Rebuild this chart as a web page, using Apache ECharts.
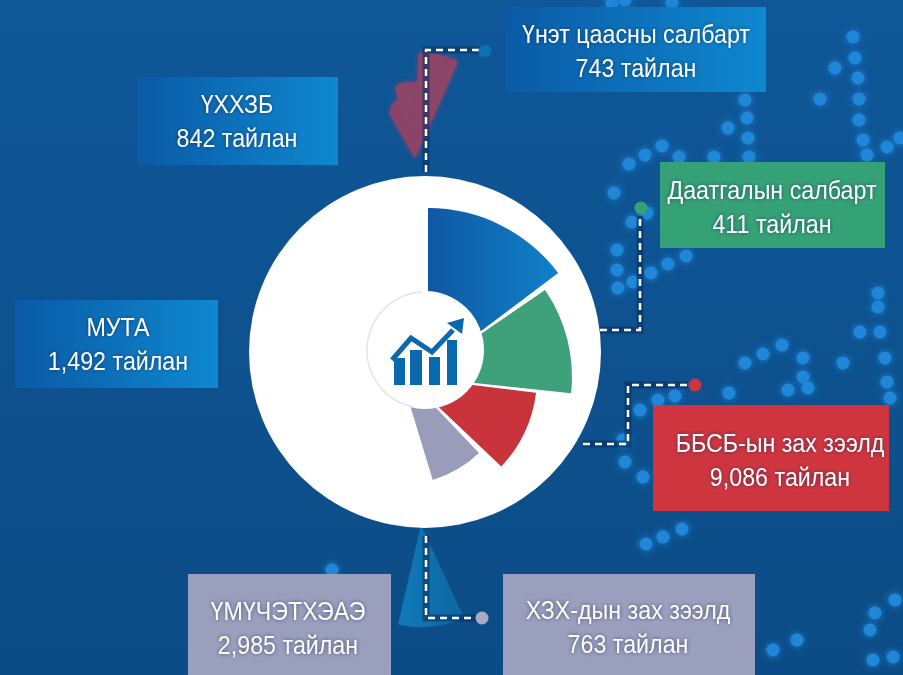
<!DOCTYPE html>
<html>
<head>
<meta charset="utf-8">
<style>
  html, body { margin: 0; padding: 0; background: #0e5290; }
  #chart { width: 903px; height: 675px; }
</style>
<script src="https://cdn.jsdelivr.net/npm/echarts@6/dist/echarts.min.js"></script>
</head>
<body>
<div id="chart"></div>
<script>
// figures printed on the boxes
const categories = ['ҮХХЗБ', 'Үнэт цаасны салбарт', 'Даатгалын салбарт', 'МУТА', 'ББСБ-ын зах зээлд', 'ҮМҮЧЭТХЭАЭ', 'ХЗХ-дын зах зээлд']
const reportCounts = [842, 743, 411, 1492, 9086, 2985, 763]

// wedge widths in degrees (they do not follow the counts)
const wedgeNames = ['Үнэт цаасны салбарт', 'Даатгалын салбарт', 'ББСБ-ын зах зээлд', 'ХЗХ-дын зах зээлд', 'ҮХХЗБ', 'ҮХХЗБ', 'ҮХХЗБ', 'ҮМҮЧЭТХЭАЭ']
const wedgeSpans = [53, 40.5, 36.5, 26.7, 30, 34, 22, 38]

// layout, in the same order as the lists above
const boxLayout = [
  { rect: [137, 77, 201, 88], cx: 237, textY: 123, fill: 'blue' },
  { rect: [505, 7, 261, 85], cx: 636, textY: 53, fill: 'blue' },
  { rect: [660, 162, 225, 86], cx: 772, textY: 209, fill: '#35a176' },
  { rect: [15, 300, 203, 88], cx: 118, textY: 346, fill: 'blue' },
  { rect: [653, 405, 236, 106], cx: 780, textY: 462, fill: '#cf353f' },
  { rect: [188, 574, 203, 101], cx: 288, textY: 630, fill: '#9a9fbd' },
  { rect: [503, 574, 252, 101], cx: 628, textY: 629, fill: '#9a9fbd' }
]
const wedgeLayout = [
  { center: [428, 371], r: 163, start: 90, z: 2, color: 'wedgeBlue' },
  { center: [418, 377], r: 154, start: 34.4, z: 2, color: '#3fa17c' },
  { center: [407, 377], r: 130, start: -7, z: 2, color: '#c9343c' },
  { center: [399, 369], r: 116, start: -46.4, z: 2, color: '#9a9dba' },
  // the maroon blob behind the disc is lopsided, so it takes three lobes
  { center: [415, 158], r: 60, start: 120, z: 0, color: '#8b4569', round: 12, blur: 5 },
  { center: [415, 158], r: 76, start: 106, z: 0, color: '#8b4569', round: 6, blur: 5 },
  { center: [415, 158], r: 106, start: 88, z: 0, color: '#8b4569', round: 3, blur: 5 },
  { center: [421, 525], r: 102, start: -65, z: 0, color: 'wedgeTeal' }
]

// dashed connectors and their end dots
const leaders = [
  { points: [[426, 172], [426, 50], [479, 50]], dot: [485, 51], color: '#0f6fb0' },
  { points: [[600, 330], [640, 330], [640, 216]], dot: [641, 208], color: '#35a176' },
  { points: [[583, 444], [628, 444], [628, 385], [688, 385]], dot: [695, 385], color: '#cf353f' },
  { points: [[426, 536], [426, 618], [476, 618]], dot: [482, 618], color: '#a6aac4' }
]

// backdrop dots of the photo
const backdropDots = [
  [745, 100], [747, 118], [728, 128], [748, 138], [662, 146], [645, 155], [629, 164], [679, 157], [714, 157], [749, 157],
  [853, 37], [855, 58], [835, 68], [858, 78], [820, 99], [859, 99], [859, 120], [863, 140], [867, 155], [887, 147], [900, 138],
  [612, 3], [625, 0], [672, 3], [614, 193], [647, 213], [632, 222], [617, 250], [617, 270], [618, 288], [633, 282],
  [651, 273], [668, 264], [686, 256], [745, 363], [763, 354], [782, 345], [803, 358], [803, 377], [788, 390], [808, 388],
  [729, 393], [675, 396], [658, 400], [640, 410], [843, 363], [860, 332], [880, 332], [878, 307], [878, 293], [885, 358],
  [887, 382], [890, 398], [625, 462], [643, 477], [623, 440], [646, 544], [663, 537], [682, 529], [773, 650], [797, 640],
  [875, 613], [895, 600], [870, 630], [873, 660], [893, 657], [332, 570]
]

const horizontal = (from, to) => new echarts.graphic.LinearGradient(0, 0, 1, 0, [
  { offset: 0, color: from },
  { offset: 1, color: to }
])

const resolveFill = (name) => {
  switch (name) {
    case 'blue': return horizontal('#0a5aa6', '#0e88cf')
    case 'wedgeBlue': return horizontal('#0f57a4', '#0f82c8')
    case 'wedgeTeal': return horizontal('#0f7ab9', '#0d659f')
    default: return name
  }
}

const formatCount = (n) => n.toLocaleString('en-US') + ' тайлан'

const chart = echarts.init(document.getElementById('chart'), undefined, { renderer: 'canvas' })

const elements = []

backdropDots.forEach(([x, y]) => {
  elements.push({
    type: 'circle', z: -1, silent: true,
    shape: { cx: x, cy: y, r: 6.5 },
    style: { fill: '#1f86d8', shadowBlur: 7, shadowColor: '#1f86d8' }
  })
})

// white disc, wedges sit on top of it
elements.push({ type: 'circle', z: 1, silent: true, shape: { cx: 425, cy: 352, r: 176 }, style: { fill: '#fff' } })
elements.push({
  type: 'circle', z: 3, silent: true,
  shape: { cx: 425, cy: 350, r: 59 },
  style: { fill: '#fff' }
})
// the ring only shows on the left, where no wedge touches it
elements.push({
  type: 'arc', z: 3, silent: true,
  shape: { cx: 425, cy: 350, r: 58, startAngle: Math.PI * 0.57, endAngle: Math.PI * 1.48, clockwise: true },
  style: { stroke: '#e4e4e4', lineWidth: 1.5, fill: null }
})

// centre icon
const iconBars = [[394, 358, 11, 27], [410, 350, 12, 35], [429, 357, 11, 28], [447, 340, 10, 45]]
iconBars.forEach(([x, y, w, h]) => {
  elements.push({ type: 'rect', z: 4, silent: true, shape: { x, y, width: w, height: h }, style: { fill: '#0a68ad' } })
})
elements.push({
  type: 'polyline', z: 4, silent: true,
  shape: { points: [[392, 360], [411, 338], [432, 352], [453, 330]] },
  style: { stroke: '#0a68ad', lineWidth: 5, fill: null }
})
elements.push({
  type: 'polygon', z: 4, silent: true,
  shape: { points: [[447, 323], [464, 318], [462, 334]] },
  style: { fill: '#0a68ad' }
})

leaders.forEach(l => {
  elements.push({
    type: 'polyline', z: 5, silent: true,
    shape: { points: l.points },
    style: { stroke: 'rgba(7,44,92,0.55)', lineWidth: 7, fill: null }
  })
  elements.push({
    type: 'polyline', z: 5, silent: true,
    shape: { points: l.points },
    style: { stroke: '#fff', lineWidth: 2.5, lineDash: [7, 5], fill: null }
  })
  elements.push({
    type: 'circle', z: 5, silent: true,
    shape: { cx: l.dot[0], cy: l.dot[1], r: 6.5 },
    style: { fill: l.color }
  })
})

categories.forEach((name, i) => {
  const b = boxLayout[i]
  const [x, y, w, h] = b.rect
  elements.push({
    type: 'rect', z: 6, silent: true,
    shape: { x, y, width: w, height: h },
    style: { fill: resolveFill(b.fill) }
  })
  elements.push({
    type: 'text', z: 7, silent: true,
    x: b.cx,
    y: b.textY,
    scaleX: 0.93,
    style: {
      text: name + '\n' + formatCount(reportCounts[i]),
      fill: '#fff',
      font: '25px "Liberation Sans", sans-serif',
      lineHeight: 34,
      textAlign: 'center',
      textVerticalAlign: 'middle',
      textShadowColor: 'rgba(5,30,70,0.6)',
      textShadowBlur: 4
    }
  })
})

const series = wedgeNames.map((name, i) => {
  const s = wedgeLayout[i]
  return {
    type: 'pie',
    name,
    z: s.z,
    silent: true,
    center: s.center,
    radius: [0, s.r],
    startAngle: s.start,
    label: { show: false },
    labelLine: { show: false },
    data: [
      {
        value: wedgeSpans[i],
        name,
        itemStyle: {
          color: resolveFill(s.color),
          borderRadius: s.round || 0,
          shadowBlur: s.blur || 0,
          shadowColor: s.blur ? s.color : 'transparent'
        }
      },
      { value: 360 - wedgeSpans[i], name: 'rest', itemStyle: { color: 'transparent' } }
    ]
  }
})

chart.setOption({
  animation: false,
  backgroundColor: new echarts.graphic.LinearGradient(0, 0, 0, 1, [
    { offset: 0, color: '#0f5798' },
    { offset: 1, color: '#0c4c86' }
  ]),
  graphic: { elements },
  series
})
</script>
</body>
</html>
